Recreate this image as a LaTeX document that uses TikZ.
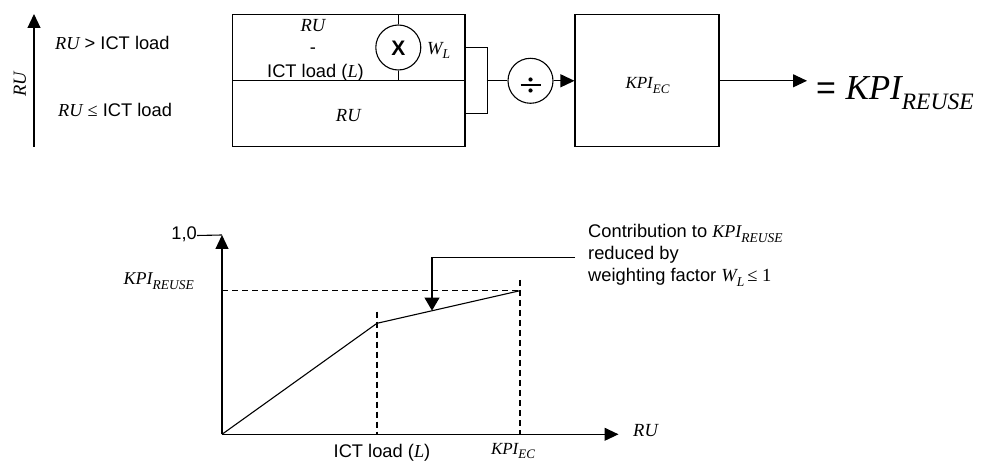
\documentclass[tikz,border=0pt]{standalone}
\usepackage{fontspec}
\setmainfont{Liberation Serif}
\setsansfont{Liberation Sans}
\usetikzlibrary{arrows.meta}
\newcommand\itsub[5]{{\fontsize{#1pt}{#1pt}\selectfont\rmfamily\itshape #2}\raisebox{-#5pt}{\fontsize{#3pt}{#3pt}\selectfont\rmfamily\itshape #4}}
\tikzset{
  ln/.style={line width=1.1pt},
  box/.style={draw, line width=1.1pt, inner sep=0pt},
  circ/.style={draw, circle, line width=1.1pt, minimum size=45pt, inner sep=0pt},
  sans/.style={font=\fontsize{18.3pt}{22pt}\selectfont\sffamily, inner sep=0pt},
  ser/.style={font=\fontsize{18.5pt}{22pt}\selectfont\rmfamily\itshape, inner sep=0pt},
  arr/.style={-{Triangle[length=14pt,width=13pt]}},
  dsh/.style={dash pattern=on 6pt off 4pt},
}
\begin{document}
\begin{tikzpicture}[x=1pt,y=-1pt]
\useasboundingbox (0,0) rectangle (983,462);
% ---------- top left axis ----------
\coordinate (la0) at (34,147);
\coordinate (la1) at (34,14);
\draw[ln,arr] (la0) -- (la1);
\node[ser, rotate=90] (rulab) at (20,84) {RU};
\node[sans, anchor=base west] (t1) at (55,50) {{\rmfamily\itshape RU} > ICT load};
\node[sans, anchor=base west] (t2) at (58,116.7) {{\rmfamily\itshape RU} {\rmfamily ≤} ICT load};
% ---------- main boxes ----------
\node[box, minimum width=232.3pt, minimum height=66.4pt] (up) at (348.85,47.5) {};
\node[box, minimum width=232.3pt, minimum height=66pt] (low) at (348.85,113.7) {};
\node[circ] (mul) at (398.3,47.5) {};
\node[font=\fontsize{21pt}{21pt}\selectfont\sffamily\bfseries, inner sep=0pt] (mulx) at (398.3,48.5) {X};
\draw[ln] (mul.north) -- (mul.north |- up.north);
\draw[ln] (mul.south) -- (mul.south |- up.south);
\node[ser, anchor=base] (ru1) at (313,32) {RU};
\node[sans, anchor=base] (minus) at (313,54) {-};
\node[sans, anchor=base] (ict1) at (315.5,78) {ICT load ({\rmfamily\itshape L})};
\node[ser, anchor=base] (ru2) at (348.3,121.7) {RU};
\node[inner sep=0pt, anchor=base west] (wl) at (427,55) {\itsub{18.5}{W}{13.5}{L}{4}};
% ---------- bracket and divide ----------
\draw[ln] (up.east) -- ++(22,0) coordinate (bt) -- (bt |- low.east) coordinate (bb) -- (low.east);
\coordinate (bm) at (486.7,80.8);
\node[circ] (div) at (530.5,80.8) {};
\draw[ln] (bm) -- (div.west);
\draw[line width=2.6pt] (520.5,85) -- (540.5,85);
\fill (530.5,79.5) circle (2.1pt);
\fill (530.5,90.5) circle (2.1pt);
% ---------- KPI_EC box ----------
\node[box, minimum width=144pt, minimum height=132.4pt] (kpi) at (647,80.5) {};
\draw[ln,arr] (div.east) -- (kpi.west |- div.east);
\node[inner sep=0pt, anchor=base] (kpitxt) at (647.5,89) {\itsub{17}{KPI}{13}{EC}{4.5}};
\coordinate (oute) at (807,80.8);
\draw[ln,arr] (kpi.east |- oute) -- (oute);
\node[inner sep=0pt, anchor=base west] (res) at (816,100) {{\fontsize{34pt}{34pt}\selectfont\sffamily = }\itsub{35}{KPI}{23.5}{REUSE}{10}};
% ---------- bottom graph ----------
\coordinate (O) at (222,434.3);
\coordinate (Yt) at (222,235);
\coordinate (Xt) at (618.5,434.3);
\coordinate (A) at (377,323.3);
\coordinate (B) at (520,290.7);
\coordinate (Lp) at (432,310.6);
\draw[ln,arr] (O) -- (Yt);
\draw[ln,arr] (O) -- (Xt);
\draw[ln] (O) -- (A) -- (B);
\draw[ln,dsh] (O |- B) -- (B);
\draw[ln,dsh] (377,311.7) -- (377,434.3);
\draw[ln,dsh] (520,280) -- (520,434.3);
\node[sans, anchor=east] (one) at (197,234) {1,0};
\draw[ln] (one.east) ++(0,1.5) -- (Yt);
\node[inner sep=0pt, anchor=base east] (kpir) at (194,285) {\itsub{18}{KPI}{13.5}{REUSE}{4.5}};
\node[sans, anchor=base] (ict2) at (382,457) {ICT load ({\rmfamily\itshape L})};
\node[inner sep=0pt, anchor=base] (kpiec2) at (513,454.5) {\itsub{17}{KPI}{13}{EC}{3.5}};
\node[ser, anchor=base west] (ru3) at (633,436) {RU};
\coordinate (ls) at (575,257.7);
\draw[ln,-{Triangle[length=13pt,width=15pt]}] (ls) -| (Lp);
\node[sans, anchor=base west] (c1) at (588,238) {Contribution to \itsub{18}{KPI}{13.5}{REUSE}{4.5}};
\node[sans, anchor=base west] (c2) at (588,260) {reduced by};
\node[sans, anchor=base west] (c3) at (588,282) {weighting factor \itsub{18.5}{W}{13.5}{L}{4.5}\,{\rmfamily\fontsize{18.5pt}{22pt}\selectfont ≤ 1}};
\end{tikzpicture}
\end{document}
